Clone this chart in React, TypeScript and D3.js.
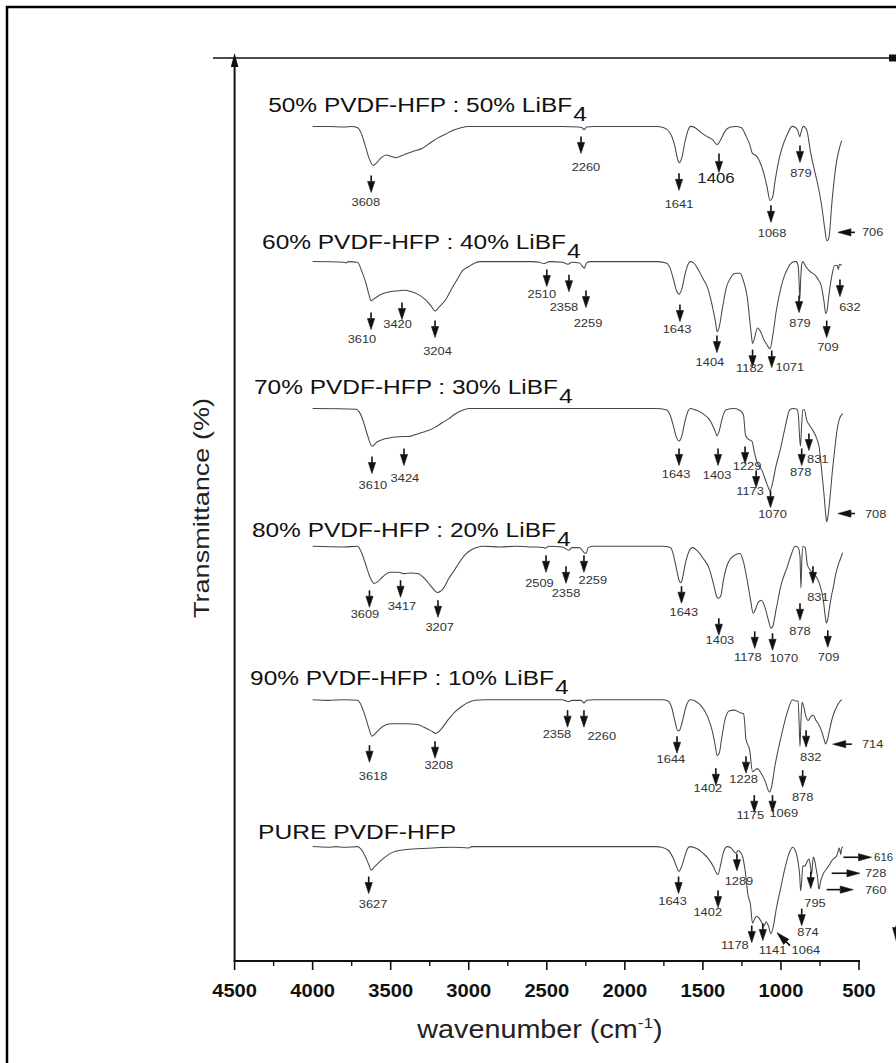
import React from "react";
import * as d3 from "d3";

const FONT = "'Liberation Sans', Arial, Helvetica, sans-serif";

const X_TICKS = [4500, 4000, 3500, 3000, 2500, 2000, 1500, 1000, 500];
const X_MINOR = [4250, 3750, 3250, 2750, 2250, 1750, 1250, 750];

const SERIES_NAMES = [
  "50% PVDF-HFP : 50% LiBF",
  "60% PVDF-HFP : 40% LiBF",
  "70% PVDF-HFP : 30% LiBF",
  "80% PVDF-HFP : 20% LiBF",
  "90% PVDF-HFP : 10% LiBF",
  "PURE PVDF-HFP",
];
const SERIES_SUB = ["4", "4", "4", "4", "4", ""];
const SERIES_OFFSETS = [542, 438, 325, 219, 101, -12];
const TITLE_WN = [4285, 4324, 4376, 4389, 4401, 4350];
const TITLE_T = [111, 109.8, 111.5, 107, 111, 106];

// ---------- spectra (wavenumber, relative transmittance) ----------
const WN_50 = [4000, 3900, 3800, 3750, 3712, 3690, 3665, 3640, 3613, 3590, 3560, 3530, 3500, 3470, 3440, 3400, 3350, 3300, 3250, 3200, 3150, 3100, 3050, 3000, 2600, 2400, 2300, 2275, 2262, 2245, 2200, 1800, 1750, 1710, 1680, 1660, 1652, 1635, 1615, 1595, 1580, 1550, 1510, 1470, 1440, 1409, 1385, 1360, 1324, 1290, 1253, 1225, 1200, 1182, 1165, 1140, 1110, 1090, 1070, 1055, 1035, 1010, 980, 955, 928, 905, 890, 880, 870, 858, 845, 834, 810, 781, 760, 738, 720, 706, 696, 687, 676, 666, 655, 645, 630, 611];
const T_50 = [100, 100, 99.5, 100, 99, 95, 86, 76, 70, 72, 76, 78, 77, 76, 77, 79, 81, 83, 87, 91, 94, 97, 99, 100, 100, 100, 99.5, 99, 97.5, 99.5, 100, 100, 99, 95, 85, 74, 72, 76, 88, 97, 100, 99, 95, 92, 90, 86, 90, 96, 99.5, 100, 99, 93, 86, 79, 78, 74, 64, 54, 43, 45, 60, 76, 88, 95, 100, 99, 96, 92, 96, 100, 99, 97, 80, 64, 53, 38, 22, 12, 13, 20, 38, 51, 63, 72, 81, 89];

const WN_60 = [4000, 3800, 3786, 3770, 3712, 3690, 3660, 3640, 3626, 3600, 3556, 3498, 3450, 3415, 3370, 3328, 3280, 3242, 3216, 3190, 3146, 3110, 3075, 3040, 3002, 2960, 2928, 2600, 2547, 2520, 2505, 2480, 2400, 2364, 2340, 2290, 2270, 2259, 2245, 2220, 1800, 1736, 1710, 1690, 1670, 1652, 1635, 1615, 1595, 1580, 1560, 1530, 1500, 1470, 1440, 1420, 1409, 1395, 1375, 1350, 1320, 1290, 1262, 1240, 1215, 1200, 1190, 1182, 1170, 1150, 1130, 1110, 1090, 1070, 1050, 1030, 1000, 975, 960, 940, 915, 903, 890, 884, 879, 874, 867, 860, 840, 810, 784, 760, 741, 725, 713, 705, 695, 680, 671, 656, 640, 632, 625, 611];
const T_60 = [100, 99.5, 99, 100, 99.5, 94, 84, 75, 70, 72, 75, 77, 77.5, 78, 77, 75, 71, 66, 62, 65, 71, 79, 86, 93, 96, 99, 100, 100, 99.5, 98.5, 99, 100, 99.5, 98, 99.5, 99, 96, 95, 99, 100, 100, 99, 95, 87, 78, 75, 79, 90, 98, 100, 99, 94, 87, 80, 66, 54, 46, 50, 64, 80, 88, 91, 91, 85, 72, 55, 44, 37, 41, 49, 46, 40, 36, 33, 45, 62, 80, 90, 94, 98, 100, 100, 97, 85, 71, 85, 98, 100, 96, 92, 90, 86, 81, 70, 60, 62, 72, 85, 91, 97, 97, 94, 98, 97];

const WN_70 = [4000, 3720, 3700, 3675, 3650, 3620, 3590, 3556, 3500, 3473, 3420, 3385, 3340, 3300, 3260, 3216, 3170, 3129, 3085, 3043, 3000, 1800, 1736, 1710, 1690, 1670, 1652, 1635, 1615, 1595, 1580, 1550, 1500, 1450, 1420, 1409, 1395, 1375, 1350, 1300, 1262, 1240, 1228, 1215, 1185, 1170, 1150, 1120, 1090, 1070, 1055, 1035, 1001, 975, 943, 920, 897, 888, 880, 875, 868, 860, 850, 835, 822, 800, 771, 755, 739, 725, 712, 708, 700, 687, 672, 655, 640, 625, 604];
const T_70 = [100, 99.5, 97, 90, 80, 71, 74, 76, 77.5, 78, 78.5, 78.5, 80, 81.5, 83, 85.5, 89, 92, 96, 98.5, 100, 100, 99, 95, 87, 78, 75, 79, 90, 98, 100, 99, 96, 90, 82, 79, 83, 93, 99, 100, 98.5, 95, 80, 77, 74.6, 66, 57.7, 52, 42, 37, 42, 54, 70, 84.6, 99, 100, 99.5, 94, 77, 71, 86, 99, 99, 91, 88, 84, 77, 70, 52, 35, 17, 13, 16, 30, 50, 69, 84, 92, 96];

const WN_80 = [4000, 3800, 3712, 3690, 3660, 3635, 3607, 3580, 3556, 3500, 3450, 3415, 3370, 3328, 3274, 3240, 3200, 3160, 3129, 3090, 3058, 3020, 2988, 2950, 2902, 2800, 2700, 2600, 2520, 2509, 2490, 2400, 2358, 2340, 2290, 2260, 2249, 2235, 2200, 1760, 1708, 1690, 1670, 1650, 1640, 1630, 1610, 1580, 1565, 1540, 1500, 1460, 1430, 1410, 1400, 1385, 1370, 1340, 1300, 1262, 1240, 1215, 1195, 1178, 1165, 1145, 1125, 1100, 1080, 1065, 1054, 1030, 1000, 960, 930, 910, 890, 878, 872, 866, 858, 845, 831, 815, 790, 771, 750, 729, 715, 709, 700, 690, 676, 662, 650, 635, 620, 605];
const T_80 = [100, 99.5, 100, 96, 86, 77, 71.5, 73, 76, 80, 80, 79, 79.5, 79, 74, 69, 64.5, 68, 75, 82, 88, 94, 97, 99, 100, 99.5, 100, 99.5, 99, 98.5, 100, 99.5, 97, 99, 99, 95, 94.5, 99, 100, 100, 99, 94, 83, 73, 72, 76, 88, 98, 99, 97, 91, 83, 70, 61, 60, 62, 73, 87, 93, 94.5, 88, 73, 59, 48.5, 51, 57, 58.5, 52, 43, 37, 38, 52, 70, 84, 95, 100, 99, 92, 68, 90, 100, 99, 86, 82, 79, 76, 70, 59, 45, 41, 44, 52, 62, 70, 78, 85, 90, 95];

const WN_90 = [4000, 3900, 3800, 3712, 3690, 3665, 3640, 3620, 3590, 3556, 3500, 3450, 3400, 3330, 3290, 3240, 3210, 3180, 3129, 3085, 3043, 3000, 2960, 2900, 2400, 2375, 2358, 2340, 2280, 2262, 2245, 2200, 1760, 1724, 1700, 1680, 1660, 1650, 1630, 1610, 1580, 1550, 1510, 1470, 1440, 1420, 1409, 1395, 1380, 1360, 1330, 1300, 1260, 1239, 1232, 1225, 1200, 1182, 1165, 1150, 1130, 1100, 1080, 1072, 1060, 1040, 1000, 960, 926, 905, 890, 883, 878, 873, 865, 855, 840, 825, 810, 793, 775, 761, 740, 725, 714, 705, 690, 675, 660, 645, 632, 611];
const T_90 = [100, 99.5, 100, 99.5, 96, 88, 78, 72, 75, 79, 81.5, 81.5, 81.5, 81, 79, 76, 74, 77, 85, 91, 95, 98, 99.5, 100, 100, 99, 98.5, 99.5, 99.5, 97.5, 99.5, 100, 100, 99, 94, 84, 76, 76.5, 84, 94, 100, 99, 95, 87, 76, 64, 57, 59, 70, 84, 91.5, 92, 90, 89, 82, 70, 61, 44.6, 46, 47, 44, 37, 30, 29, 33, 48, 71, 90, 100, 99, 99, 80, 64, 80, 98, 95, 87, 84, 87, 88, 84, 81.5, 76, 70, 66, 68, 76, 84, 90, 94, 97, 100];

const WN_PURE = [4000, 3900, 3850, 3800, 3712, 3690, 3665, 3640, 3625, 3600, 3556, 3498, 3415, 3300, 3100, 3000, 2980, 1800, 1764, 1720, 1690, 1670, 1653, 1635, 1615, 1595, 1580, 1540, 1500, 1460, 1430, 1410, 1403, 1390, 1370, 1345, 1320, 1300, 1289, 1275, 1262, 1245, 1230, 1210, 1196, 1182, 1170, 1155, 1140, 1125, 1110, 1095, 1080, 1064, 1050, 1030, 1000, 975, 950, 926, 905, 889, 880, 874, 868, 860, 847, 830, 820, 810, 803, 798, 793, 785, 776, 765, 758, 754, 748, 739, 725, 707, 690, 675, 660, 643, 630, 626, 621, 617, 612, 604];
const T_PURE = [100, 99.5, 100, 99.5, 100, 98, 93, 86, 82, 85, 90, 95, 97.5, 98.5, 99.5, 99, 100, 100, 99.5, 97, 91, 85, 81, 85, 93, 99, 100, 98.5, 95, 90, 84, 79, 78.5, 84, 95, 100, 99, 96, 95, 97, 96, 92, 82, 62, 56, 41, 44, 46.5, 45, 42, 39, 42, 39, 33, 38, 52, 69, 83, 94, 99.5, 96, 87, 78, 66, 72, 85, 85, 89, 90.5, 84, 79, 86, 92, 90, 84, 76, 68, 67.5, 72, 76, 80, 83, 86, 89, 91, 93, 98, 99, 96, 94, 98, 100];

// ---------- peak annotations: [label, arrow wn, arrow tip T, label wn, label T] ----------
type Ann = [string, number, number, number, number];
// free arrows: [label, tail wn, tail T, tip wn, tip T, label wn, label T]
type FreeAnn = [string, number, number, number, number, number, number];

const ANN_50: Ann[] = [
  ["3608", 3625, 49.2, 3659, 41.6],
  ["2260", 2281, 79.2, 2249, 68.5],
  ["1641", 1653, 50.8, 1653, 40],
  ["879", 878, 72.3, 872, 63.9],
  ["1068", 1064, 26.2, 1057, 17.7],
];
const BIG_ANN_50: Ann[] = [["1406", 1397, 64.6, 1416, 60.8]];
const FREE_50: FreeAnn[] = [["706", 526, 18.5, 635, 18.5, 481, 18.5]];

const ANN_60: Ann[] = [
  ["3610", 3626, 47.7, 3684, 40.8],
  ["3420", 3428, 55.4, 3456, 52.3],
  ["3204", 3216, 41.6, 3200, 31.6],
  ["2510", 2500, 80.8, 2532, 75.4],
  ["2358", 2358, 76.9, 2390, 65.4],
  ["2259", 2249, 64.6, 2236, 53.1],
  ["1643", 1647, 53.9, 1666, 48.5],
  ["1404", 1410, 30, 1455, 23.1],
  ["1182", 1182, 19.2, 1199, 18.5],
  ["1071", 1059, 18.5, 943, 19.2],
  ["879", 884, 60.8, 878, 53.1],
  ["709", 707, 41.6, 699, 34.6],
  ["632", 622, 73.1, 558, 65.4],
];

const ANN_70: Ann[] = [
  ["3610", 3620, 50, 3614, 40.8],
  ["3424", 3415, 56.2, 3409, 46.9],
  ["1643", 1653, 56.2, 1672, 50],
  ["1403", 1403, 56.2, 1409, 49.2],
  ["1229", 1230, 57.7, 1217, 55.4],
  ["1173", 1159, 39.2, 1198, 36.9],
  ["1070", 1067, 23.8, 1054, 19.2],
  ["878", 867, 56.2, 874, 50.8],
  ["831", 821, 67.7, 764, 61.5],
];
const FREE_70: FreeAnn[] = [["708", 526, 19.2, 635, 19.2, 462, 19.2]];

const ANN_80: Ann[] = [
  ["3609", 3636, 53.1, 3665, 47.7],
  ["3417", 3437, 60.8, 3428, 53.9],
  ["3207", 3197, 45.4, 3186, 37.7],
  ["2509", 2505, 80, 2547, 71.5],
  ["2358", 2377, 71.5, 2377, 63.9],
  ["2259", 2262, 80, 2205, 73.9],
  ["1643", 1637, 56.2, 1622, 49.2],
  ["1403", 1398, 31.6, 1391, 27.7],
  ["1178", 1168, 21.5, 1212, 14.6],
  ["1070", 1054, 20, 982, 13.9],
  ["878", 878, 43.1, 878, 34.9],
  ["831", 795, 71.5, 763, 61],
  ["709", 700, 22.3, 695, 14.9],
];

const ANN_90: Ann[] = [
  ["3618", 3636, 51.9, 3613, 41.2],
  ["3208", 3216, 55, 3192, 49.6],
  ["2358", 2367, 78.9, 2435, 73.5],
  ["2260", 2262, 78.9, 2148, 71.9],
  ["1644", 1666, 58.8, 1705, 54.2],
  ["1402", 1417, 34.2, 1468, 31.9],
  ["1228", 1224, 43.5, 1239, 38.9],
  ["1175", 1171, 13.5, 1196, 11.2],
  ["1069", 1054, 13.5, 982, 12.7],
  ["832", 839, 63.5, 809, 56],
  ["878", 861, 32.7, 861, 25.3],
];
const FREE_90: FreeAnn[] = [["714", 546, 65.8, 668, 65.8, 481, 65.8]];

const ANN_PURE: Ann[] = [
  ["3627", 3641, 63.9, 3613, 56.2],
  ["1643", 1656, 63.9, 1694, 58.5],
  ["1402", 1403, 53.1, 1469, 49.5],
  ["1289", 1282, 81.5, 1269, 73.9],
  ["1178", 1187, 26.2, 1295, 24.6],
  ["1141", 1116, 27.7, 1054, 20.8],
  ["874", 867, 39.2, 827, 34.1],
  ["795", 809, 67.7, 782, 56.4],
];
const FREE_PURE: FreeAnn[] = [
  ["1064", 942, 23.8, 1025, 33.8, 840, 20.8],
  ["760", 707, 66.9, 537, 66.9, 462, 66.9],
  ["728", 675, 79.5, 494, 79.5, 462, 79.5],
  ["616", 600, 91.8, 420, 91.8, 404, 91.8],
  ["", 262, 39.2, 262, 27.7, 262, 27.7],
];

const SPECTRA = [
  { wn: WN_50, t: T_50, ann: ANN_50, big: BIG_ANN_50, free: FREE_50 },
  { wn: WN_60, t: T_60, ann: ANN_60, big: [] as Ann[], free: [] as FreeAnn[] },
  { wn: WN_70, t: T_70, ann: ANN_70, big: [] as Ann[], free: FREE_70 },
  { wn: WN_80, t: T_80, ann: ANN_80, big: [] as Ann[], free: [] as FreeAnn[] },
  { wn: WN_90, t: T_90, ann: ANN_90, big: [] as Ann[], free: FREE_90 },
  { wn: WN_PURE, t: T_PURE, ann: ANN_PURE, big: [] as Ann[], free: FREE_PURE },
];

function arrowShape(x1: number, y1: number, x2: number, y2: number, hl: number, hw: number) {
  const dx = x2 - x1, dy = y2 - y1;
  const L = Math.sqrt(dx * dx + dy * dy) || 1;
  const ux = dx / L, uy = dy / L;
  const bx = x2 - ux * hl, by = y2 - uy * hl;
  const px = -uy, py = ux;
  return {
    shaft: `M${x1},${y1}L${bx},${by}`,
    head: `M${x2},${y2}L${bx + px * hw},${by + py * hw}L${bx - px * hw},${by - py * hw}Z`,
  };
}

function Arrow({ x1, y1, x2, y2, hl = 11, hw = 3.6 }: any) {
  const a = arrowShape(x1, y1, x2, y2, hl, hw);
  return (
    <g>
      <path d={a.shaft} stroke="#111" strokeWidth={1.6} fill="none" />
      <path d={a.head} fill="#111" stroke="#111" strokeWidth={0.6} />
    </g>
  );
}

function SText({ x, y, sx = 1, anchor = "middle", size, weight = "normal", fill = "#222", children }: any) {
  return (
    <text
      transform={`translate(${x},${y}) scale(${sx},1)`}
      textAnchor={anchor}
      fontSize={size}
      fontWeight={weight}
      fill={fill}
      fontFamily={FONT}
    >
      {children}
    </text>
  );
}

export default function App() {
  const x = d3.scaleLinear().domain([4500, 500]).range([234.6, 859]);
  const y = d3.scaleLinear().domain([0, 700]).range([961, 51]);
  const axisY = y(0);
  const axisX = x(4500);

  const lines = SPECTRA.map((s, i) => {
    const off = SERIES_OFFSETS[i];
    const pts: [number, number][] = s.wn.map((w, k) => [w, s.t[k]]);
    const gen = d3
      .line<[number, number]>()
      .x((d) => x(d[0]))
      .y((d) => y(off + d[1]))
      .curve(d3.curveMonotoneX);
    return gen(pts) || "";
  });

  return (
    <div style={{ position: "absolute", left: 0, top: 0 }}>
      <svg width={896} height={1063} style={{ display: "block", background: "#fff" }}>
        <rect x={0} y={0} width={896} height={1063} fill="#fff" />
        {/* outer frame */}
        <rect x={7} y={7} width={905} height={1075} fill="none" stroke="#000" strokeWidth={2.5} />

        {/* top line with end marker */}
        <line x1={213} x2={896} y1={58} y2={58} stroke="#111" strokeWidth={1.5} />
        <rect x={889} y={54.5} width={7} height={7} fill="#111" />

        {/* y axis with arrow */}
        <line x1={axisX} x2={axisX} y1={axisY} y2={66} stroke="#111" strokeWidth={2} />
        <path d={`M${axisX},53L${axisX - 3.8},67L${axisX + 3.8},67Z`} fill="#111" />

        {/* x axis */}
        <line x1={axisX - 1} x2={x(500) + 1} y1={axisY} y2={axisY} stroke="#111" strokeWidth={2} />
        {X_TICKS.map((t) => (
          <line key={"M" + t} x1={x(t)} x2={x(t)} y1={axisY} y2={axisY + 9} stroke="#111" strokeWidth={1.6} />
        ))}
        {X_MINOR.map((t) => (
          <line key={"m" + t} x1={x(t)} x2={x(t)} y1={axisY} y2={axisY + 5} stroke="#111" strokeWidth={1.4} />
        ))}
        {X_TICKS.map((t) => (
          <SText key={"L" + t} x={x(t)} y={axisY + 36} sx={1.12} size={18} weight="bold" fill="#111">
            {t}
          </SText>
        ))}

        {/* axis titles */}
        <text
          transform={`translate(${x(4500) - 26},${508}) rotate(-90)`}
          textAnchor="middle"
          fontSize={22}
          fontFamily={FONT}
          fill="#222"
          textLength={220}
          lengthAdjust="spacingAndGlyphs"
        >
          Transmittance (%)
        </text>
        <text
          transform={`translate(${540},${1038}) scale(1.15,1)`}
          textAnchor="middle"
          fontSize={25}
          fontFamily={FONT}
          fill="#222"
        >
          wavenumber (cm
          <tspan fontSize={15} dy={-10}>
            -1
          </tspan>
          <tspan dy={10}>)</tspan>
        </text>

        {/* spectra */}
        {lines.map((d, i) => (
          <path key={"s" + i} d={d} fill="none" stroke="#474747" strokeWidth={1.05} strokeLinejoin="round" />
        ))}

        {/* titles */}
        {SERIES_NAMES.map((name, i) => {
          const tx = x(TITLE_WN[i]);
          const ty = y(SERIES_OFFSETS[i] + TITLE_T[i]);
          const len = SERIES_SUB[i] ? 304 : 0;
          return (
            <g key={"t" + i}>
              {SERIES_SUB[i] ? (
                <text
                  x={tx}
                  y={ty}
                  fontSize={20.5}
                  fontFamily={FONT}
                  fill="#111"
                  textLength={len}
                  lengthAdjust="spacingAndGlyphs"
                >
                  {name}
                </text>
              ) : (
                <SText x={tx} y={ty} sx={1.2} anchor="start" size={20.5} fill="#111">
                  {name}
                </SText>
              )}
              {SERIES_SUB[i] ? (
                <SText x={tx + len + 1} y={ty + 9} sx={1.2} anchor="start" size={20.5} fill="#111">
                  {SERIES_SUB[i]}
                </SText>
              ) : null}
            </g>
          );
        })}

        {/* annotations */}
        {SPECTRA.map((s, i) => {
          const off = SERIES_OFFSETS[i];
          return (
            <g key={"a" + i}>
              {s.ann.map((a, k) => {
                const ax = x(a[1]);
                const tip = y(off + a[2]);
                return (
                  <g key={k}>
                    <Arrow x1={ax} y1={tip - 17} x2={ax} y2={tip} />
                    <SText x={x(a[3])} y={y(off + a[4]) + 4} sx={1.12} size={11.5} fill="#333">
                      {a[0]}
                    </SText>
                  </g>
                );
              })}
              {s.big.map((a, k) => {
                const ax = x(a[1]);
                const tip = y(off + a[2]);
                return (
                  <g key={"b" + k}>
                    <Arrow x1={ax} y1={tip - 19} x2={ax} y2={tip} />
                    <SText x={x(a[3])} y={y(off + a[4]) + 5.5} sx={1.12} size={15} fill="#222">
                      {a[0]}
                    </SText>
                  </g>
                );
              })}
              {s.free.map((a, k) => (
                <g key={"f" + k}>
                  <Arrow x1={x(a[1])} y1={y(off + a[2])} x2={x(a[3])} y2={y(off + a[4])} hl={13} hw={3.6} />
                  {a[0] ? (
                    <SText
                      x={x(a[5])}
                      y={y(off + a[6]) + 4}
                      sx={a[0] === "616" ? 1.0 : 1.12}
                      anchor={a[0] === "1064" ? "middle" : "start"}
                      size={11.5}
                      fill="#333"
                    >
                      {a[0]}
                    </SText>
                  ) : null}
                </g>
              ))}
            </g>
          );
        })}
      </svg>
    </div>
  );
}
